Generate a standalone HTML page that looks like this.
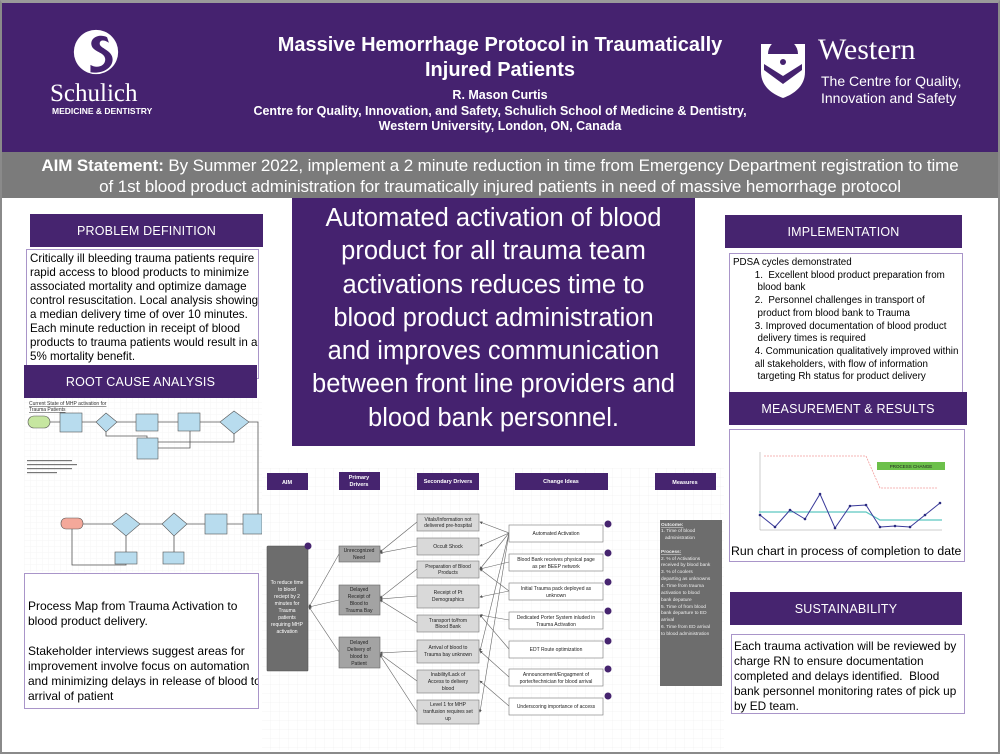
<!DOCTYPE html>
<html><head><meta charset="utf-8"><style>
*{margin:0;padding:0;box-sizing:border-box}
body{width:1000px;height:754px;position:relative;overflow:hidden;background:#fff;font-family:"Liberation Sans",sans-serif}
.abs{position:absolute}
.hdr{background:#46246f;color:#fff;font-family:"Liberation Sans",sans-serif;font-size:12.5px;text-align:center;display:flex;align-items:center;justify-content:center;letter-spacing:0.2px}
.box{background:#fff;border:1px solid #a995c9;color:#000;white-space:nowrap;overflow:hidden}
</style></head><body>
<div class="abs" style="left:0;top:0;width:1000px;height:754px;border:2px solid #8a8a8a;border-top:3px solid #9a9a9a;z-index:50;pointer-events:none"></div>
<div class="abs" style="left:0;top:0;width:1000px;height:152px;background:#45226f"></div>
<svg class="abs" style="left:72px;top:28px" width="48" height="48" viewBox="0 0 52 52">
<circle cx="26" cy="26" r="24" fill="#fff"/>
<path d="M38 10 C30 6 20 10 21 18 C22 26 36 26 36 34 C36 42 26 44 20 40 L20 48 C32 50 44 44 44 34 C44 24 30 22 30 17 C30 12 36 13 40 16 Z" fill="#45226f"/>
</svg>
<div class="abs" style="left:50px;top:80px;color:#fff;font-family:'Liberation Serif',serif;font-size:25px">Schulich</div>
<div class="abs" style="left:52px;top:106px;color:#fff;font-size:8.5px;font-weight:bold">MEDICINE &amp; DENTISTRY</div>
<div class="abs" style="left:240px;top:33px;width:520px;text-align:center;color:#fff;font-weight:bold;font-size:20px;line-height:25px">Massive Hemorrhage Protocol in Traumatically<br>Injured Patients</div>
<div class="abs" style="left:240px;top:88px;width:520px;text-align:center;color:#fff;font-weight:bold;font-size:12.5px;line-height:15.5px;white-space:nowrap">R. Mason Curtis<br>Centre for Quality, Innovation, and Safety, Schulich School of Medicine &amp; Dentistry,<br>Western University, London, ON, Canada</div>
<svg class="abs" style="left:758px;top:40px" width="50" height="60" viewBox="0 0 50 60">
<path d="M3 4 H47 V32 C47 46 36 54 25 58 C14 54 3 46 3 32 Z" fill="#fff"/>
<path d="M6 30 L25 44 L44 30 L44 24 L25 36 L6 24 Z" fill="#45226f"/>
<path d="M10 14 A15 15 0 0 1 40 14 Z" fill="#45226f"/><circle cx="25" cy="22" r="3" fill="#45226f"/>
</svg>
<div class="abs" style="left:818px;top:33px;color:#fff;font-family:'Liberation Serif',serif;font-size:30px">Western</div>
<div class="abs" style="left:821px;top:73px;color:#fff;font-size:14px;line-height:17px">The Centre for Quality,<br>Innovation and Safety</div>
<div class="abs" style="left:0;top:152px;width:1000px;height:46px;background:#7b7b7b;color:#fff;font-size:17px;line-height:21px;text-align:center;padding-top:3px;white-space:nowrap;letter-spacing:-0.1px"><b>AIM Statement:</b> By Summer 2022, implement a 2 minute reduction in time from Emergency Department registration to time<br>of 1st blood product administration for traumatically injured patients in need of massive hemorrhage protocol</div>
<div class="abs" style="left:292px;top:198px;width:403px;height:248px;background:#45226f;color:#fff;font-size:25.5px;line-height:33.3px;text-align:center;padding-top:4px;white-space:nowrap">Automated activation of blood<br>product for all trauma team<br>activations reduces time to<br>blood product administration<br>and improves communication<br>between front line providers and<br>blood bank personnel.</div>
<div class="abs hdr" style="left:30px;top:214px;width:233px;height:33px">PROBLEM DEFINITION</div>
<div class="abs box" style="left:26px;top:249px;width:233px;height:130px;font-size:11.6px;line-height:14px;padding:2px 3px">Critically ill bleeding trauma patients require<br>rapid access to blood products to minimize<br>associated mortality and optimize damage<br>control resuscitation. Local analysis showing<br>a median delivery time of over 10 minutes.<br>Each minute reduction in receipt of blood<br>products to trauma patients would result in a<br>5% mortality benefit.</div>
<div class="abs hdr" style="left:24px;top:365px;width:233px;height:33px">ROOT CAUSE ANALYSIS</div>
<svg class="abs" style="left:24px;top:398px" width="238" height="174" viewBox="24 398 238 174">
<defs><pattern id="g" width="6" height="6" patternUnits="userSpaceOnUse"><path d="M6 0H0V6" fill="none" stroke="#eee" stroke-width="0.5"/></pattern></defs>
<rect x="24" y="398" width="238" height="174" fill="url(#g)"/>
<text x="29" y="405" font-size="5" fill="#333" text-decoration="underline">Current State of MHP activation for</text>
<text x="29" y="411" font-size="5" fill="#333" text-decoration="underline">Trauma Patients</text>
<g stroke="#555" stroke-width="0.8" fill="none">
<path d="M50 422H60M82 422H96M117 422H136M158 422H178M200 422H220M249 422H258V520M243 524H227M205 524H187M162 524H140M112 524H83M126 535V552M174 535V552M126 562V565H72V528M106 430V436H147V438M158 448H190V431M234 434V442H147V458"/>
</g>
<rect x="28" y="416" width="22" height="12" rx="6" fill="#c6e6a0" stroke="#555" stroke-width="0.6"/>
<rect x="60" y="413" width="22" height="19" fill="#b8dcee" stroke="#555" stroke-width="0.6"/>
<polygon points="106,413 117,422 106,432 96,422" fill="#b8dcee" stroke="#555" stroke-width="0.6"/>
<rect x="136" y="414" width="22" height="17" fill="#b8dcee" stroke="#555" stroke-width="0.6"/>
<rect x="178" y="413" width="22" height="18" fill="#b8dcee" stroke="#555" stroke-width="0.6"/>
<polygon points="234,411 249,422 234,434 220,422" fill="#b8dcee" stroke="#555" stroke-width="0.6"/>
<rect x="137" y="438" width="21" height="21" fill="#b8dcee" stroke="#555" stroke-width="0.6"/>
<rect x="61" y="518" width="22" height="11" rx="5" fill="#f4a89a" stroke="#555" stroke-width="0.6"/>
<polygon points="126,513 140,524 126,536 112,524" fill="#b8dcee" stroke="#555" stroke-width="0.6"/>
<polygon points="174,513 187,524 174,536 162,524" fill="#b8dcee" stroke="#555" stroke-width="0.6"/>
<rect x="205" y="514" width="22" height="20" fill="#b8dcee" stroke="#555" stroke-width="0.6"/>
<rect x="243" y="514" width="19" height="20" fill="#b8dcee" stroke="#555" stroke-width="0.6"/>
<rect x="115" y="552" width="22" height="12" fill="#b8dcee" stroke="#555" stroke-width="0.6"/>
<rect x="163" y="552" width="21" height="12" fill="#b8dcee" stroke="#555" stroke-width="0.6"/>
<g fill="#777"><rect x="27" y="460" width="45" height="1.2"/><rect x="27" y="464" width="50" height="1.2"/><rect x="27" y="468" width="45" height="1.2"/><rect x="27" y="472" width="30" height="1.2"/></g>
</svg>
<div class="abs box" style="left:24px;top:573px;width:235px;height:136px;font-size:12px;line-height:15px;padding:25px 3px 0">Process Map from Trauma Activation to<br>blood product delivery.<br><br>Stakeholder interviews suggest areas for<br>improvement involve focus on automation<br>and minimizing delays in release of blood to<br>arrival of patient</div>
<div class="abs hdr" style="left:725px;top:215px;width:237px;height:33px">IMPLEMENTATION</div>
<div class="abs box" style="left:729px;top:253px;width:234px;height:140px;font-size:9.8px;line-height:12.7px;padding:3px 3px">PDSA cycles demonstrated<br>&nbsp;&nbsp;&nbsp;&nbsp;&nbsp;&nbsp;&nbsp;&nbsp;1.&nbsp; Excellent blood product preparation from<br>&nbsp;&nbsp;&nbsp;&nbsp;&nbsp;&nbsp;&nbsp;&nbsp;&nbsp;blood bank<br>&nbsp;&nbsp;&nbsp;&nbsp;&nbsp;&nbsp;&nbsp;&nbsp;2.&nbsp; Personnel challenges in transport of<br>&nbsp;&nbsp;&nbsp;&nbsp;&nbsp;&nbsp;&nbsp;&nbsp;&nbsp;product from blood bank to Trauma<br>&nbsp;&nbsp;&nbsp;&nbsp;&nbsp;&nbsp;&nbsp;&nbsp;3. Improved documentation of blood product<br>&nbsp;&nbsp;&nbsp;&nbsp;&nbsp;&nbsp;&nbsp;&nbsp;&nbsp;delivery times is required<br>&nbsp;&nbsp;&nbsp;&nbsp;&nbsp;&nbsp;&nbsp;&nbsp;4. Communication qualitatively improved within<br>&nbsp;&nbsp;&nbsp;&nbsp;&nbsp;&nbsp;&nbsp;&nbsp;all stakeholders, with flow of information<br>&nbsp;&nbsp;&nbsp;&nbsp;&nbsp;&nbsp;&nbsp;&nbsp;&nbsp;targeting Rh status for product delivery</div>
<div class="abs hdr" style="left:729px;top:392px;width:238px;height:33px">MEASUREMENT &amp; RESULTS</div>
<div class="abs box" style="left:729px;top:429px;width:236px;height:133px"></div>
<svg class="abs" style="left:730px;top:430px" width="234" height="110" viewBox="730 430 234 110">
<g stroke="#999" stroke-width="0.5" fill="none"><path d="M760 452V530H942"/></g>
<path d="M764 456H866L880 488H937" stroke="#f29c9c" stroke-width="0.8" stroke-dasharray="2,1" fill="none"/>
<path d="M759 512H866L880 520H942" stroke="#5cc7c0" stroke-width="1.2" fill="none"/>
<rect x="877" y="462" width="68" height="8" fill="#6cc04a"/>
<text x="911" y="468" font-size="4.5" text-anchor="middle" fill="#222">PROCESS CHANGE</text>
<polyline points="760,515 775,527 790,510 805,519 820,494 835,528 850,506 866,505 880,527 895,526 910,527 925,515 940,503" fill="none" stroke="#3a3a9a" stroke-width="1"/>
<g fill="#2a2a80"><circle cx="760" cy="515" r="1.3"/><circle cx="775" cy="527" r="1.3"/><circle cx="790" cy="510" r="1.3"/><circle cx="805" cy="519" r="1.3"/><circle cx="820" cy="494" r="1.3"/><circle cx="835" cy="528" r="1.3"/><circle cx="850" cy="506" r="1.3"/><circle cx="866" cy="505" r="1.3"/><circle cx="880" cy="527" r="1.3"/><circle cx="895" cy="526" r="1.3"/><circle cx="910" cy="527" r="1.3"/><circle cx="925" cy="515" r="1.3"/><circle cx="940" cy="503" r="1.3"/></g>
</svg>
<div class="abs" style="left:731px;top:544px;font-size:12.3px;color:#000;white-space:nowrap">Run chart in process of completion to date</div>
<div class="abs hdr" style="left:730px;top:592px;width:232px;height:33px">SUSTAINABILITY</div>
<div class="abs box" style="left:731px;top:634px;width:234px;height:80px;font-size:11.8px;line-height:15px;padding:4px 2px">Each trauma activation will be reviewed by<br>charge RN to ensure documentation<br>completed and delays identified.&nbsp; Blood<br>bank personnel monitoring rates of pick up<br>by ED team.</div>
<svg class="abs" style="left:262px;top:458px" width="462" height="292" viewBox="262 458 462 292" font-family="Liberation Sans, sans-serif">
<defs><pattern id="g2" width="9" height="9" patternUnits="userSpaceOnUse"><path d="M9 0H0V9" fill="none" stroke="#eaeaea" stroke-width="0.5"/></pattern>
<marker id="a" markerWidth="5" markerHeight="5" refX="4" refY="2.5" orient="auto"><path d="M0 0L5 2.5L0 5z" fill="#555"/></marker></defs>
<rect x="262" y="468" width="462" height="282" fill="url(#g2)"/>
<g fill="#46246f"><rect x="267" y="473" width="41" height="17"/><rect x="339" y="472" width="41" height="18"/><rect x="417" y="473" width="62" height="17"/><rect x="515" y="473" width="93" height="17"/><rect x="655" y="473" width="61" height="17"/></g>
<g fill="#fff" font-size="5.5" font-weight="bold" text-anchor="middle"><text x="287" y="484">AIM</text><text x="359" y="479">Primary</text><text x="359" y="486">Drivers</text><text x="448" y="483">Secondary Drivers</text><text x="561" y="483">Change Ideas</text><text x="685" y="484">Measures</text></g>
<g stroke="#666" stroke-width="0.6" fill="none" marker-end="url(#a)">
<path d="M339 554L309 607"/><path d="M339 600L309 607"/><path d="M339 652L309 607"/>
<path d="M417 522L380 552"/><path d="M417 546L380 553"/>
<path d="M417 569L380 598"/><path d="M417 596L380 599"/><path d="M417 623L380 600"/>
<path d="M417 651L380 653"/><path d="M417 681L380 654"/><path d="M417 712L380 655"/>
<path d="M509 533L480 522"/><path d="M509 533L480 546"/><path d="M509 533L480 569"/><path d="M509 533L480 651"/><path d="M509 533L480 712"/>
<path d="M509 562L480 569"/><path d="M509 591L480 569"/><path d="M509 591L480 597"/>
<path d="M509 620L480 615"/><path d="M509 649L480 615"/><path d="M509 677L480 651"/><path d="M509 706L480 681"/>
</g>
<rect x="267" y="546" width="41" height="125" rx="1" fill="#6d6d6d" stroke="#555" stroke-width="0.6"/>
<circle cx="308" cy="546" r="3.5" fill="#46246f"/>
<g fill="#fff" font-size="5" text-anchor="middle"><text x="287" y="584">To reduce time</text><text x="287" y="591">to blood</text><text x="287" y="598">reciept by 2</text><text x="287" y="605">minutes for</text><text x="287" y="612">Trauma</text><text x="287" y="619">patients</text><text x="287" y="626">requiring MHP</text><text x="287" y="633">activation</text></g>
<g fill="#a3a3a3" stroke="#666" stroke-width="0.6"><rect x="339" y="546" width="41" height="16"/><rect x="339" y="585" width="41" height="30"/><rect x="339" y="637" width="41" height="31"/></g>
<g font-size="5" text-anchor="middle" fill="#222"><text x="359" y="552">Unrecognized</text><text x="359" y="559">Need</text><text x="359" y="591">Delayed</text><text x="359" y="598">Receipt of</text><text x="359" y="605">Blood to</text><text x="359" y="612">Trauma Bay</text><text x="359" y="644">Delayed</text><text x="359" y="651">Delivery of</text><text x="359" y="658">blood to</text><text x="359" y="665">Patient</text></g>
<g fill="#d9d9d9" stroke="#777" stroke-width="0.6"><rect x="417" y="514" width="62" height="17"/><rect x="417" y="538" width="62" height="17"/><rect x="417" y="561" width="62" height="17"/><rect x="417" y="585" width="62" height="23"/><rect x="417" y="615" width="62" height="17"/><rect x="417" y="640" width="62" height="23"/><rect x="417" y="670" width="62" height="23"/><rect x="417" y="700" width="62" height="24"/></g>
<g font-size="5" text-anchor="middle" fill="#222"><text x="448" y="521">Vitals/Information not</text><text x="448" y="527">delivered pre-hospital</text><text x="448" y="548">Occult Shock</text><text x="448" y="568">Preparation of Blood</text><text x="448" y="574">Products</text><text x="448" y="594">Receipt of Pt</text><text x="448" y="601">Demographics</text><text x="448" y="622">Transport to/from</text><text x="448" y="628">Blood Bank</text><text x="448" y="649">Arrival of blood to</text><text x="448" y="656">Trauma bay unknown</text><text x="448" y="676">Inability/Lack of</text><text x="448" y="683">Access to delivery</text><text x="448" y="690">blood</text><text x="448" y="706">Level 1 for MHP</text><text x="448" y="713">tranfusion requires set</text><text x="448" y="720">up</text></g>
<g fill="#fff" stroke="#777" stroke-width="0.6"><rect x="509" y="525" width="94" height="17"/><rect x="509" y="554" width="94" height="17"/><rect x="509" y="583" width="94" height="17"/><rect x="509" y="612" width="94" height="17"/><rect x="509" y="641" width="94" height="17"/><rect x="509" y="669" width="94" height="17"/><rect x="509" y="698" width="94" height="17"/></g>
<g fill="#46246f"><circle cx="608" cy="524" r="3.5"/><circle cx="608" cy="553" r="3.5"/><circle cx="608" cy="582" r="3.5"/><circle cx="608" cy="611" r="3.5"/><circle cx="608" cy="641" r="3.5"/><circle cx="608" cy="669" r="3.5"/><circle cx="608" cy="696" r="3.5"/></g>
<g font-size="5" text-anchor="middle" fill="#222"><text x="556" y="535">Automated Activation</text><text x="556" y="561">Blood Bank receives physical page</text><text x="556" y="568">as per BEEP network</text><text x="556" y="590">Initial Trauma pack deployed as</text><text x="556" y="597">unknown</text><text x="556" y="619">Dedicated Porter System inluded in</text><text x="556" y="626">Trauma Activation</text><text x="556" y="651">EDT Route optimization</text><text x="556" y="676">Announcement/Engagment of</text><text x="556" y="683">porter/technician for blood arrival</text><text x="556" y="708">Underscoring importance of access</text></g>
<rect x="660" y="520" width="62" height="166" fill="#6d6d6d"/>
<g font-size="4.8" fill="#eee"><text x="661" y="526" text-decoration="underline" font-weight="bold">Outcome:</text><text x="661" y="532">1. Time of blood</text><text x="665" y="539">administration</text><text x="661" y="553" text-decoration="underline" font-weight="bold">Process:</text><text x="661" y="560">2. % of Activations</text><text x="661" y="566">received by blood bank</text><text x="661" y="573">3. % of coolers</text><text x="661" y="580">departing as unknowns</text><text x="661" y="587">4. Time from trauma</text><text x="661" y="594">activation to blood</text><text x="661" y="601">bank depature</text><text x="661" y="608">5. Time of from blood</text><text x="661" y="614">bank departure to ED</text><text x="661" y="621">arrival</text><text x="661" y="628">6. Time from ED arrival</text><text x="661" y="635">to blood administration</text></g>
</svg>
</body></html>
